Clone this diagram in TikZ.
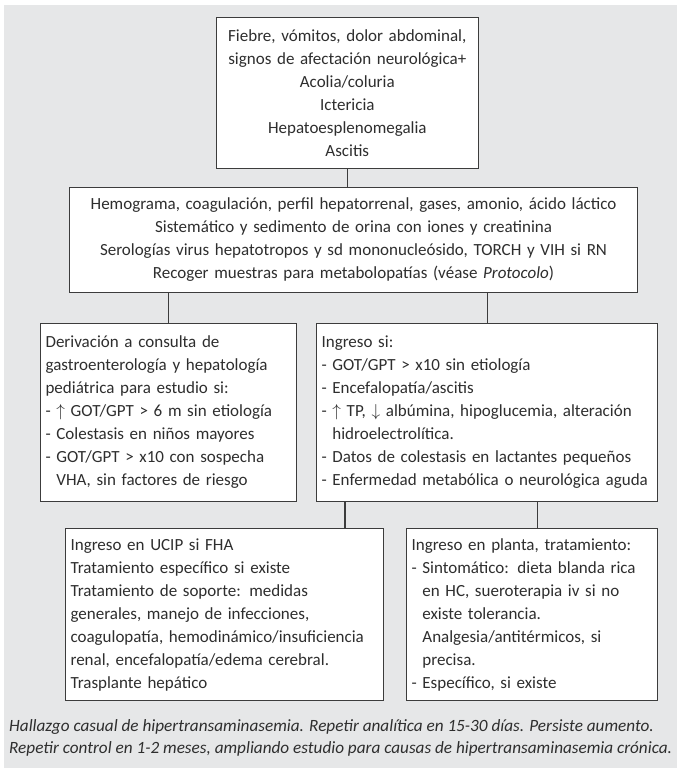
\documentclass[tikz,border=0pt]{standalone}
\usepackage{fontspec}
\setmainfont{Carlito}
\usetikzlibrary{calc}
\definecolor{panel}{HTML}{E6E7E8}
\definecolor{ink}{HTML}{2E2E2E}
\definecolor{edge}{HTML}{3C3C3C}
\newcommand{\hang}{\phantom{- }}
\begin{document}
\begin{tikzpicture}[x=1pt,y=-1pt,
  box/.style={draw=edge, line width=1.1pt, fill=white, anchor=north west,
    inner xsep=5pt, inner ysep=0pt, text=ink,
    font=\fontsize{17}{23}\selectfont},
  centred/.style={box, align=center},
  leftbox/.style={box, align=left},
  link/.style={draw=edge, line width=1.1pt},
  note/.style={anchor=west, align=left, text=ink, inner sep=0pt,
    font=\fontsize{17.2}{22}\selectfont\itshape}]
\useasboundingbox (0,0) rectangle (680,773);
% grey panel behind the chart
\fill[panel] (4,5) rectangle (677,768);

\node[centred, minimum width=262.5pt, minimum height=151pt, text width=252.5pt] (b1) at (215.5,17)
  {Fiebre, vómitos, dolor abdominal,\\
   signos de afectación neurológica+\\
   Acolia/coluria\\
   Ictericia\\
   Hepatoesplenomegalia\\
   Ascitis};

\node[centred, minimum width=568pt, minimum height=105pt, text width=558pt] (b2) at (69,187)
  {Hemograma, coagulación, perfil hepatorrenal, gases, amonio, ácido láctico\\
   Sistemático y sedimento de orina con iones y creatinina\\
   Serologías virus hepatotropos y sd mononucleósido, TORCH y VIH si RN\\
   Recoger muestras para metabolopatías (véase \textit{Protocolo})};

\node[leftbox, minimum width=256pt, minimum height=178pt, text width=246pt] (b3) at (40,323)
  {Derivación a consulta de\\
   gastroenterología y hepatología\\
   pediátrica para estudio si:\\
   - $\uparrow$ GOT/GPT > 6 m sin etiología\\
   - Colestasis en niños mayores\\
   - GOT/GPT > x10 con sospecha\\
   \hang VHA, sin factores de riesgo};

\node[leftbox, minimum width=341pt, minimum height=178pt, text width=331pt] (b4) at (316,323)
  {Ingreso si:\\
   - GOT/GPT > x10 sin etiología\\
   - Encefalopatía/ascitis\\
   - $\uparrow$ TP, $\downarrow$ albúmina, hipoglucemia, alteración\\
   \hang hidroelectrolítica.\\
   - Datos de colestasis en lactantes pequeños\\
   - Enfermedad metabólica o neurológica aguda};

\node[leftbox, minimum width=318pt, minimum height=172pt, text width=308pt] (b5) at (65,528)
  {Ingreso en UCIP si FHA\\
   Tratamiento específico si existe\\
   Tratamiento de soporte: medidas\\
   generales, manejo de infecciones,\\
   coagulopatía, hemodinámico/insuficiencia\\
   renal, encefalopatía/edema cerebral.\\
   Trasplante hepático};

\node[leftbox, minimum width=251pt, minimum height=172pt, text width=241pt] (b6) at (406,528)
  {Ingreso en planta, tratamiento:\\
   - Sintomático: dieta blanda rica\\
   \hang en HC, sueroterapia iv si no\\
   \hang existe tolerancia.\\
   \hang Analgesia/antitérmicos, si\\
   \hang precisa.\\
   - Específico, si existe};

\node[note] (n1) at (9,738)
  {Hallazgo casual de hipertransaminasemia. Repetir analítica en 15-30 días. Persiste aumento.\\
   Repetir control en 1-2 meses, ampliando estudio para causas de hipertransaminasemia crónica.};

% connectors
\draw[link] (b1.south) -- (b1.south |- b2.north);
\draw[link] (b3.north |- b2.south) -- (b3.north);
\draw[link] (b4.north |- b2.south) -- (b4.north);
\draw[link] ([xshift=29pt]b4.south west) -- ([xshift=29pt]b4.south west |- b5.north);
\draw[link] ([xshift=5.5pt]b6.north |- b4.south) -- ([xshift=5.5pt]b6.north);
\end{tikzpicture}
\end{document}
